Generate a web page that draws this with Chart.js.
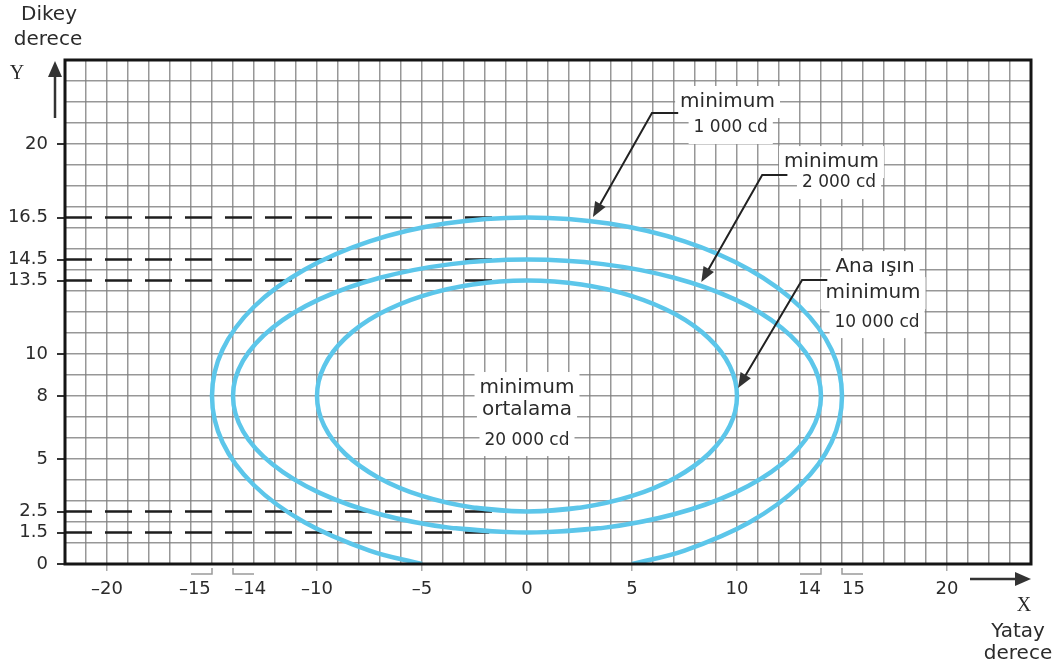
<!DOCTYPE html>
<html>
<head>
<meta charset="utf-8">
<script src="https://cdn.jsdelivr.net/npm/chart.js@4.4.1/dist/chart.umd.min.js"></script>
<style>
  html, body { margin: 0; padding: 0; background: #fff; }
  #wrap { width: 1058px; height: 665px; position: relative; }
</style>
</head>
<body>
<div id="wrap"><canvas id="chart"></canvas></div>
<script>
// Isophote curves (degrees)
const curve1000X = [-5.0, -7.5, -10.6, -13.0, -14.5, -15.0, -14.5, -13.0, -10.6, -7.5, -3.9, 0, 3.9, 7.5, 10.6, 13.0, 14.5, 15.0, 14.5, 13.0, 10.6, 7.5, 5.0];
const curve1000Y = [0.0, 0.64, 1.99, 3.75, 5.8, 8.0, 10.2, 12.25, 14.01, 15.36, 16.21, 16.5, 16.21, 15.36, 14.01, 12.25, 10.2, 8.0, 5.8, 3.75, 1.99, 0.64, 0.0];

const curve2000X = [3.62, 0, -3.62, -7.0, -9.9, -12.12, -13.52, -14, -13.52, -12.12, -9.9, -7.0, -3.62, 0, 3.62, 7.0, 9.9, 12.12, 13.52, 14, 13.52, 12.12, 9.9, 7.0, 3.62, 0, -3.62];
const curve2000Y = [1.72, 1.5, 1.72, 2.37, 3.4, 4.75, 6.32, 8, 9.68, 11.25, 12.6, 13.63, 14.28, 14.5, 14.28, 13.63, 12.6, 11.25, 9.68, 8, 6.32, 4.75, 3.4, 2.37, 1.72, 1.5, 1.72];

const curve10000X = [2.59, 0, -2.59, -5.0, -7.07, -8.66, -9.66, -10, -9.66, -8.66, -7.07, -5.0, -2.59, 0, 2.59, 5.0, 7.07, 8.66, 9.66, 10, 9.66, 8.66, 7.07, 5.0, 2.59, 0, -2.59];
const curve10000Y = [2.69, 2.5, 2.69, 3.24, 4.11, 5.25, 6.58, 8, 9.42, 10.75, 11.89, 12.76, 13.31, 13.5, 13.31, 12.76, 11.89, 10.75, 9.42, 8, 6.58, 5.25, 4.11, 3.24, 2.69, 2.5, 2.69];

// dashed reference levels and where they stop
const refLevels = [16.5, 14.5, 13.5, 2.5, 1.5];
const refEnds = [-0.4, -0.4, -0.4, -0.4, -1.8];

// axis ticks
const xTicks = [-20, -15, -14, -10, -5, 0, 5, 10, 14, 15, 20];
const yTicks = [0, 1.5, 2.5, 5, 8, 10, 13.5, 14.5, 16.5, 20];
const bracketTicks = [-15, -14, 14, 15];
const bracketSide = [-1, 1, -1, 1];

// annotation texts
const noteText = ['minimum', '1 000 cd', 'minimum', '2 000 cd', 'Ana ışın', 'minimum', '10 000 cd', 'minimum', 'ortalama', '20 000 cd'];
const noteAt = [[9.55, 22.0], [9.7, 20.76], [14.5, 19.14], [14.86, 18.14], [16.57, 14.14], [16.48, 12.9], [16.67, 11.52], [0, 8.38], [0, 7.33], [0, 5.9]];
const noteSize = [20, 17, 20, 17, 20, 20, 17, 20, 20, 17];
const leaders = [
    [[7.2, 21.48], [5.95, 21.48], [3.14, 16.52]],
    [[12.4, 18.52], [11.2, 18.52], [8.3, 13.43]],
    [[14.3, 13.52], [13.1, 13.52], [10.05, 8.38]]
];

const FONT = '"DejaVu Sans", sans-serif';
const TEXT = '#2b2b2b';
const BLUE = '#5cc6ea';

function zip(xs, ys) {
    return xs.map((x, i) => ({ x: x, y: ys[i] }));
}

function curveSet(xs, ys) {
    return {
        data: zip(xs, ys),
        showLine: true,
        borderColor: BLUE,
        borderWidth: 4.5,
        pointRadius: 0,
        tension: 0.36,
        order: 1
    };
}

const datasets = [
    curveSet(curve1000X, curve1000Y),
    curveSet(curve2000X, curve2000Y),
    curveSet(curve10000X, curve10000Y)
];

refLevels.forEach((lv, i) => {
    datasets.push({
        data: [{ x: -22, y: lv }, { x: refEnds[i], y: lv }],
        showLine: true,
        borderColor: '#1e1e1e',
        borderWidth: 2.5,
        borderDash: [27, 13],
        pointRadius: 0,
        tension: 0,
        order: 2
    });
});

function xLabel(v) {
    let s = v < 0 ? '\u2013' + Math.abs(v) : String(v);
    const sp = '\u00a0';
    if (v === -15) s = s + sp.repeat(6);
    if (v === -14) s = sp.repeat(6) + s;
    if (v === 14) s = s + sp.repeat(4);
    if (v === 15) s = sp.repeat(4) + s;
    return s;
}

function drawArrow(ctx, pts, len, half) {
    const n = pts.length;
    const [x1, y1] = pts[n - 2];
    const [x2, y2] = pts[n - 1];
    const a = Math.atan2(y2 - y1, x2 - x1);
    const bx = x2 - len * Math.cos(a), by = y2 - len * Math.sin(a);
    ctx.beginPath();
    ctx.moveTo(pts[0][0], pts[0][1]);
    for (let i = 1; i < n - 1; i++) ctx.lineTo(pts[i][0], pts[i][1]);
    ctx.lineTo(bx + 2 * Math.cos(a), by + 2 * Math.sin(a));
    ctx.stroke();
    ctx.beginPath();
    ctx.moveTo(x2, y2);
    ctx.lineTo(bx - half * Math.sin(a), by + half * Math.cos(a));
    ctx.lineTo(bx + half * Math.sin(a), by - half * Math.cos(a));
    ctx.closePath();
    ctx.fill();
}

const decorations = {
    id: 'decorations',
    afterDraw(chart) {
        const ctx = chart.ctx;
        const area = chart.chartArea;
        const sx = chart.scales.x, sy = chart.scales.y;
        const px = v => sx.getPixelForValue(v);
        const py = v => sy.getPixelForValue(v);
        ctx.save();

        // brackets under -15, -14, 14, 15
        ctx.strokeStyle = '#9a9a9a';
        ctx.lineWidth = 1.5;
        bracketTicks.forEach((v, i) => {
            const x0 = px(v), x1 = px(v + bracketSide[i]);
            ctx.beginPath();
            ctx.moveTo(x0, area.bottom + 4);
            ctx.lineTo(x0, area.bottom + 10);
            ctx.lineTo(x1, area.bottom + 10);
            ctx.stroke();
        });

        // frame
        ctx.strokeStyle = '#151515';
        ctx.lineWidth = 3;
        ctx.strokeRect(area.left, area.top, area.right - area.left, area.bottom - area.top);

        // axis arrows
        ctx.strokeStyle = '#333';
        ctx.fillStyle = '#333';
        ctx.lineWidth = 2.5;
        drawArrow(ctx, [[55, 118], [55, 61]], 16, 7);
        drawArrow(ctx, [[970, 579], [1031, 579]], 16, 7);

        // axis titles
        ctx.fillStyle = TEXT;
        ctx.textAlign = 'center';
        ctx.textBaseline = 'middle';
        ctx.font = '20px ' + FONT;
        ctx.fillText('Dikey', 49, 15);
        ctx.fillText('derece', 48, 40);
        ctx.fillText('Yatay', 1018, 632);
        ctx.fillText('derece', 1018, 654);
        ctx.font = '20px "Liberation Serif", serif';
        ctx.fillText('Y', 17, 74);
        ctx.fillText('X', 1024, 606);

        // annotation texts on white boxes
        noteText.forEach((t, i) => {
            const x = px(noteAt[i][0]), y = py(noteAt[i][1]);
            ctx.font = noteSize[i] + 'px ' + FONT;
            const w = ctx.measureText(t).width;
            ctx.fillStyle = '#fff';
            ctx.fillRect(x - w / 2 - 5, y - 16, w + 10, 32);
        });
        noteText.forEach((t, i) => {
            const x = px(noteAt[i][0]), y = py(noteAt[i][1]);
            ctx.font = noteSize[i] + 'px ' + FONT;
            ctx.fillStyle = TEXT;
            ctx.fillText(t, x, y);
        });

        // leader arrows
        ctx.strokeStyle = '#222';
        ctx.fillStyle = '#333';
        ctx.lineWidth = 2;
        leaders.forEach(l => {
            drawArrow(ctx, l.map(p => [px(p[0]), py(p[1])]), 15, 6);
        });

        ctx.restore();
    }
};

new Chart(document.getElementById('chart'), {
    type: 'scatter',
    data: { datasets: datasets },
    options: {
        responsive: true,
        maintainAspectRatio: false,
        animation: false,
        devicePixelRatio: 1,
        layout: { padding: { top: 60, right: 27, left: 0, bottom: 0 } },
        plugins: {
            legend: { display: false },
            tooltip: { enabled: false }
        },
        scales: {
            x: {
                type: 'linear',
                min: -22,
                max: 24,
                ticks: { stepSize: 1, display: false },
                grid: { color: 'rgba(125,125,125,0.8)', lineWidth: 1.5, drawTicks: false },
                border: { display: false },
                afterFit: s => { s.height = 0; }
            },
            xLab: {
                type: 'linear',
                position: 'bottom',
                min: -22,
                max: 24,
                afterBuildTicks: axis => { axis.ticks = xTicks.map(v => ({ value: v })); },
                ticks: {
                    autoSkip: false,
                    maxRotation: 0,
                    padding: 8,
                    color: TEXT,
                    font: { family: FONT, size: 18 },
                    callback: v => xLabel(v)
                },
                grid: {
                    drawOnChartArea: false,
                    tickLength: 7,
                    lineWidth: 1.5,
                    color: c => (c.tick && bracketTicks.includes(c.tick.value)) ? 'rgba(0,0,0,0)' : '#aaa'
                },
                border: { display: false },
                afterFit: s => { s.height = 101; }
            },
            y: {
                type: 'linear',
                min: 0,
                max: 24,
                ticks: { stepSize: 1, display: false },
                grid: { color: 'rgba(125,125,125,0.8)', lineWidth: 1.5, drawTicks: false },
                border: { display: false },
                afterFit: s => { s.width = 0; }
            },
            yLab: {
                type: 'linear',
                position: 'left',
                min: 0,
                max: 24,
                afterBuildTicks: axis => { axis.ticks = yTicks.map(v => ({ value: v })); },
                ticks: {
                    autoSkip: false,
                    padding: 9,
                    color: TEXT,
                    font: { family: FONT, size: 18 }
                },
                grid: {
                    drawOnChartArea: false,
                    tickLength: 8,
                    lineWidth: 2,
                    color: '#333'
                },
                border: { display: false },
                afterFit: s => { s.width = 65; }
            }
        }
    },
    plugins: [decorations]
});
</script>
</body>
</html>
